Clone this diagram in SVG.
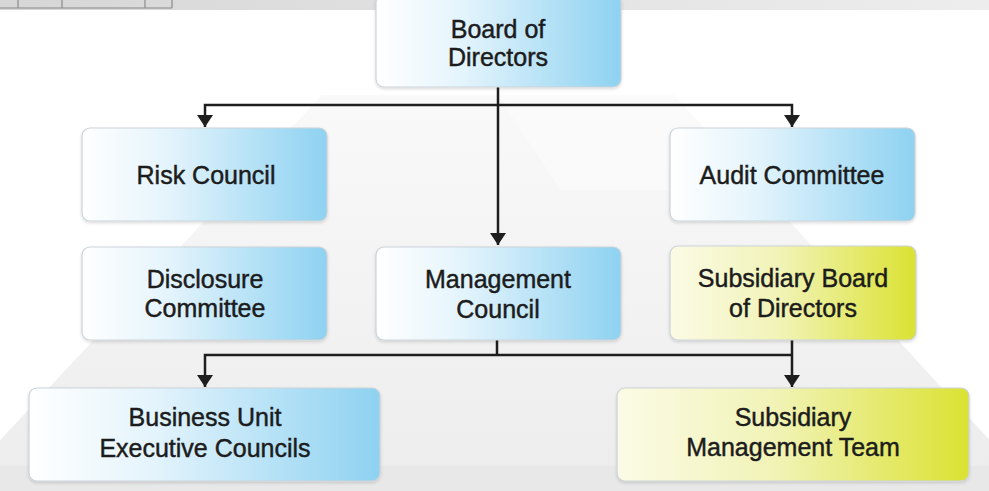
<svg xmlns="http://www.w3.org/2000/svg" width="989" height="491" viewBox="0 0 989 491">
<defs>
<linearGradient id="blue" x1="0" y1="0" x2="1" y2="0">
<stop offset="0" stop-color="#ffffff"/>
<stop offset="0.35" stop-color="#e4f4fc"/>
<stop offset="1" stop-color="#8ed2f1"/>
</linearGradient>
<linearGradient id="yellow" x1="0" y1="0" x2="1" y2="0">
<stop offset="0" stop-color="#fbfbe6"/>
<stop offset="0.45" stop-color="#f1f3b6"/>
<stop offset="1" stop-color="#dbe232"/>
</linearGradient>
<linearGradient id="pyr" x1="0" y1="0" x2="0" y2="1">
<stop offset="0" stop-color="#f9f9f9"/>
<stop offset="1" stop-color="#ededed"/>
</linearGradient>
<linearGradient id="strip" x1="0" y1="0" x2="1" y2="0">
<stop offset="0" stop-color="#d6d6d6"/>
<stop offset="0.5" stop-color="#e2e2e2"/>
<stop offset="1" stop-color="#ededed"/>
</linearGradient>
<filter id="sh" x="-5%" y="-5%" width="110%" height="115%">
<feDropShadow dx="0" dy="1.5" stdDeviation="1.5" flood-color="#000" flood-opacity="0.15"/>
</filter>
<marker id="arr" viewBox="0 0 12 16" refX="12" refY="8" markerWidth="12" markerHeight="16" markerUnits="userSpaceOnUse" orient="auto-start-reverse">
<path d="M0,0 L12,8 L0,16 Z" fill="#1e1e1e"/>
</marker>
</defs>
<style>
.box{stroke:#cbd3da;stroke-width:1.2;filter:url(#sh)}
.b{fill:url(#blue)}
.y{fill:url(#yellow)}
text{font-family:"Liberation Sans",Arial,sans-serif;font-size:25px;fill:#1c1c1c;stroke:#1c1c1c;stroke-width:0.45;text-anchor:middle}
.c{stroke:#1e1e1e;stroke-width:2.5;fill:none}
</style>
<rect x="0" y="0" width="989" height="491" fill="#ffffff"/>
<polygon points="322,95 674,95 1015,468 -26,468" fill="url(#pyr)"/>
<polygon points="498,95 674,95 760,190 560,190" fill="#ffffff" opacity="0.35"/>
<rect x="0" y="466" width="989" height="25" fill="#e8e8e8"/>
<rect x="0" y="0" width="989" height="10" fill="url(#strip)"/>
<g stroke="#8a8a8a" stroke-width="1.2">
<line x1="0" y1="8" x2="172" y2="8"/>
<line x1="18" y1="0" x2="18" y2="8"/>
<line x1="62" y1="0" x2="62" y2="8"/>
<line x1="145" y1="0" x2="145" y2="8"/>
<line x1="172" y1="0" x2="172" y2="8"/>
</g>
<g id="connectors">
<path class="c" d="M498,87 V245" marker-end="url(#arr)"/>
<path class="c" d="M205,127 V105 H792 V127" marker-start="url(#arr)" marker-end="url(#arr)"/>
<path class="c" d="M497,340 V355"/>
<path class="c" d="M205,387 V355 H792" marker-start="url(#arr)"/>
<path class="c" d="M792,340 V387" marker-end="url(#arr)"/>
</g>
<g id="board">
<rect class="box b" x="376" y="-6" width="245" height="93" rx="8"/>
<text x="498" y="38">Board of</text>
<text x="498" y="66">Directors</text>
</g>
<g id="risk">
<rect class="box b" x="82" y="128" width="245" height="93" rx="8"/>
<text x="206" y="184">Risk Council</text>
</g>
<g id="audit">
<rect class="box b" x="670" y="128" width="245" height="93" rx="8"/>
<text x="792" y="184">Audit Committee</text>
</g>
<g id="disclosure">
<rect class="box b" x="82" y="247" width="245" height="93" rx="8"/>
<text x="205" y="288">Disclosure</text>
<text x="205" y="317">Committee</text>
</g>
<g id="management">
<rect class="box b" x="376" y="247" width="245" height="93" rx="8"/>
<text x="498" y="288">Management</text>
<text x="498" y="318">Council</text>
</g>
<g id="subboard">
<rect class="box y" x="670" y="246" width="246" height="94" rx="8"/>
<text x="793" y="287">Subsidiary Board</text>
<text x="793" y="317">of Directors</text>
</g>
<g id="business">
<rect class="box b" x="29" y="388" width="351" height="93" rx="8"/>
<text x="205" y="426">Business Unit</text>
<text x="205" y="457">Executive Councils</text>
</g>
<g id="submgmt">
<rect class="box y" x="617" y="388" width="352" height="93" rx="8"/>
<text x="793" y="426">Subsidiary</text>
<text x="793" y="456">Management Team</text>
</g>
</svg>
